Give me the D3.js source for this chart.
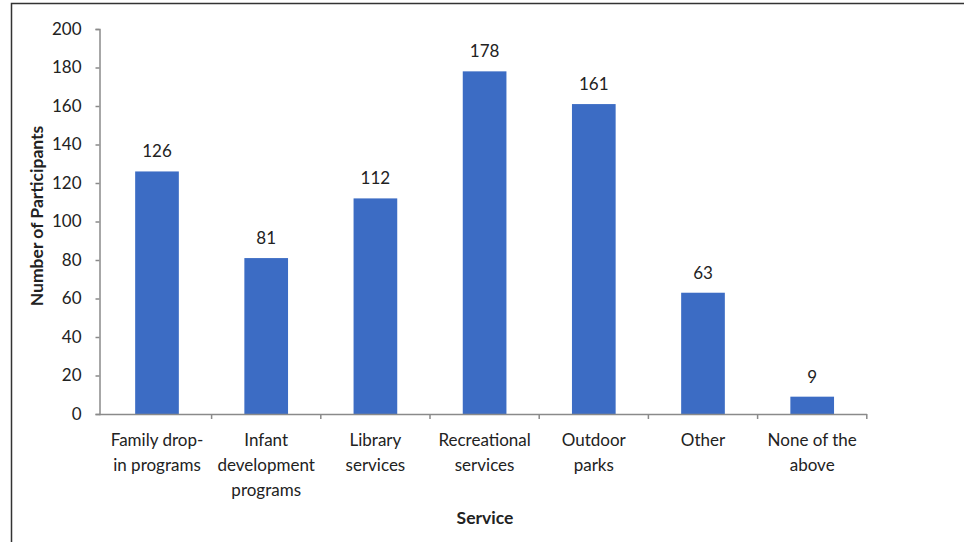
<!DOCTYPE html>
<html><head><meta charset="utf-8">
<script src="https://cdn.jsdelivr.net/npm/d3@7"></script>
<style>body{margin:0;background:#fff}svg{display:block}text{font-family:Lato,"Open Sans",sans-serif;fill:#222}</style>
</head><body>
<script>
const categories = [["Family drop-","in programs"],["Infant","development","programs"],["Library","services"],["Recreational","services"],["Outdoor","parks"],["Other"],["None of the","above"]];
const values = [126,81,112,178,161,63,9];
const yTicks = [0,20,40,60,80,100,120,140,160,180,200];

const W=964,H=542;
const svg=d3.select("body").append("svg").attr("width",W).attr("height",H);
// frame
svg.append("path").attr("d","M11.5,542 V3.5 H964").attr("fill","none").attr("stroke","#333").attr("stroke-width",1.5);

const x=d3.scaleBand().domain(d3.range(values.length)).range([102.4,866.8]).paddingInner(0.6).paddingOuter(0.3);
const y=d3.scaleLinear().domain([0,200]).range([414,29]);
const axisCol="#8a8a8a";
const fs="17px";

// y axis
const ya=svg.append("g").attr("transform","translate(99.5,0)").call(d3.axisLeft(y).tickValues(yTicks).tickSize(4).tickPadding(14));
ya.select(".domain").attr("stroke",axisCol).attr("stroke-width",1.5);
ya.selectAll(".tick line").attr("stroke",axisCol).attr("stroke-width",1.5);
ya.selectAll("text").style("font-size",fs).attr("fill","#222");

// bars
svg.selectAll("rect.bar").data(values).join("rect").attr("class","bar")
 .attr("x",(d,i)=>x(i)).attr("width",x.bandwidth()).attr("y",d=>y(d)).attr("height",d=>y(0)-y(d)).attr("fill","#3c6cc4");

// x axis
svg.append("line").attr("x1",99).attr("x2",867).attr("y1",414.5).attr("y2",414.5).attr("stroke",axisCol).attr("stroke-width",1.5);
const step=x.step();
const xt=d3.range(1,values.length+1).map(i=>x(0)-x.bandwidth()*0 - (step-x.bandwidth())/2 + i*step);
svg.selectAll("line.xt").data(xt).join("line").attr("class","xt").attr("x1",d=>d).attr("x2",d=>d).attr("y1",414).attr("y2",419).attr("stroke",axisCol).attr("stroke-width",1.5);

// value labels
svg.selectAll("text.val").data(values).join("text").attr("class","val")
 .attr("x",(d,i)=>x(i)+x.bandwidth()/2).attr("y",d=>y(d)-14).attr("text-anchor","middle").style("font-size",fs).text(d=>d);

// category labels
categories.forEach((lines,i)=>{
  const cx=x(i)+x.bandwidth()/2;
  lines.forEach((l,j)=>{
    svg.append("text").attr("x",cx).attr("y",446+j*25).attr("text-anchor","middle").style("font-size",fs).text(l);
  });
});

// axis titles
svg.append("text").attr("transform","translate(43,216) rotate(-90)").attr("text-anchor","middle").style("font-size","17.5px").style("font-weight","bold").text("Number of Participants");
svg.append("text").attr("x",485).attr("y",524).attr("text-anchor","middle").style("font-size","17.5px").style("font-weight","bold").text("Service");
</script>
</body></html>
